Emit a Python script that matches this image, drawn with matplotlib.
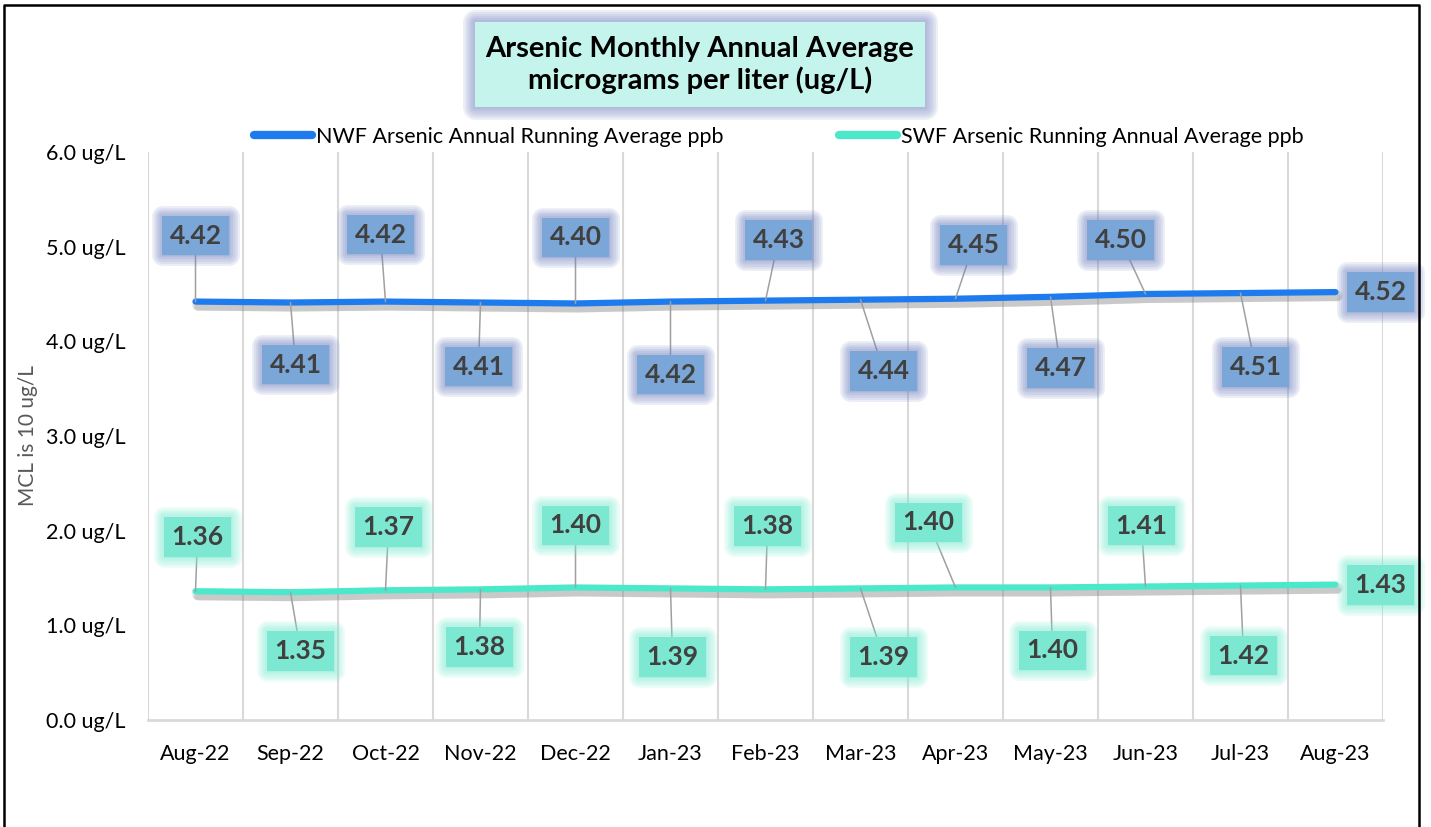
"""
Arsenic running annual average, NWF vs SWF, Aug-22 to Aug-23.
Excel-style line chart with glowing data-label boxes.
"""
import matplotlib
matplotlib.use("Agg")
import matplotlib.pyplot as plt
import matplotlib.patheffects as pe
from matplotlib.lines import Line2D
from matplotlib.patches import Rectangle
import numpy as np

plt.rcParams["font.family"] = ["Lato", "DejaVu Sans"]

months = ["Aug-22", "Sep-22", "Oct-22", "Nov-22", "Dec-22", "Jan-23", "Feb-23",
          "Mar-23", "Apr-23", "May-23", "Jun-23", "Jul-23", "Aug-23"]
nwf = [4.42, 4.41, 4.42, 4.41, 4.40, 4.42, 4.43, 4.44, 4.45, 4.47, 4.50, 4.51, 4.52]
swf = [1.36, 1.35, 1.37, 1.38, 1.40, 1.39, 1.38, 1.39, 1.40, 1.40, 1.41, 1.42, 1.43]
yticks = [0, 1, 2, 3, 4, 5, 6]

nwf_name = "NWF Arsenic Annual Running Average ppb"
swf_name = "SWF Arsenic Running Annual Average ppb"

# label offsets from the point, in pixels (dy == 0 -> no leader line)
nwf_offsets = [(0, 66), (5, -62), (-5, 67), (-2, -64), (0, 66), (0, -73), (13, 61),
               (23, -71), (18, 54), (10, -71), (-25, 54), (15, -74), (45, 0)]
swf_offsets = [(2, 54), (10, -59), (3, 63), (-1, -58), (0, 62), (2, -69), (2, 63),
               (23, -69), (-27, 65), (2, -63), (-4, 61), (3, -70), (45, 0)]

NWF_LINE = "#1E7BEE"
SWF_LINE = "#4CE8CA"
TXT = "#404040"


def glow(color, widths, alpha):
    fx = [pe.Stroke(linewidth=w, foreground=color, alpha=alpha, joinstyle="round")
          for w in widths]
    return fx + [pe.Normal()]


W, H = 1431, 827
fig = plt.figure(figsize=(W / 100, H / 100), dpi=100)
ax = fig.add_axes([148 / W, 1 - 720 / H, (1383 - 148) / W, (720 - 152) / H])

x = np.arange(len(months))

shadow = [pe.SimpleLineShadow(offset=(1.5, -o), shadow_color="#808080", alpha=0.16,
                              linewidth=w)
          for o, w in [(2.5, 8), (3.5, 6), (4.2, 4.5)]] + [pe.Normal()]
ax.plot(x, nwf, color=NWF_LINE, lw=4.5, solid_capstyle="round", path_effects=shadow,
        zorder=3, label=nwf_name)
ax.plot(x, swf, color=SWF_LINE, lw=4.5, solid_capstyle="round", path_effects=shadow,
        zorder=3, label=swf_name)


def add_labels(vals, offsets, fill, glow_color):
    for i, (v, (dx, dy)) in enumerate(zip(vals, offsets)):
        arrow = None
        if dy != 0:
            arrow = dict(arrowstyle="-", color="#a0a0a0", lw=1.1, shrinkA=0, shrinkB=0)
        ann = ax.annotate(f"{v:.2f}", (i, v), xytext=(dx, dy), textcoords="offset pixels",
                          ha="center", va="center", fontsize=19, fontweight="bold",
                          color=TXT, arrowprops=arrow, zorder=5, annotation_clip=False,
                          bbox=dict(boxstyle="square,pad=0.3", fc=fill, ec="none"))
        ann.get_bbox_patch().set_path_effects(glow(glow_color, [15, 12, 9, 6, 3], 0.14))


add_labels(nwf, nwf_offsets, "#7BA7D8", "#7486c0")
add_labels(swf, swf_offsets, "#7DE8D1", "#7EEBD3")

ax.set_xlim(-0.5, len(months) - 0.5)
ax.set_ylim(0, 6)
ax.set_xticks(x)
ax.set_xticklabels(months)
ax.set_xticks(np.arange(-0.5, len(months)), minor=True)
ax.set_yticks(yticks)
ax.set_yticklabels([f"{t:.1f} ug/L" for t in yticks])
ax.tick_params(axis="both", which="both", length=0, labelsize=15.5, colors="black")
ax.tick_params(axis="x", pad=17)
ax.tick_params(axis="y", pad=16)
ax.grid(axis="x", which="minor", color="#d9d9d9", lw=1.5)
for s in ["top", "right", "left"]:
    ax.spines[s].set_visible(False)
ax.spines["bottom"].set_color("#d9d9d9")
ax.spines["bottom"].set_linewidth(2)

# legend, two entries placed apart
h1, h2 = ax.get_lines()
for h, xl in [(h1, 254), (h2, 839)]:
    handle = Line2D([], [], color=h.get_color(), lw=6, solid_capstyle="round")
    leg = fig.legend([handle], [h.get_label()], loc="center left",
                     bbox_to_anchor=(xl / W, 1 - 137 / H), frameon=False, fontsize=15.5,
                     handlelength=2.7, handletextpad=0.2, borderpad=0, borderaxespad=0)

fig.text(28 / W, 1 - 436 / H, "MCL is 10 ug/L", rotation=90, ha="center", va="center",
         fontsize=15, color="#595959")

# title box with glow
tbox = Rectangle((475 / W, 1 - 107 / H), 450 / W, 85 / H, transform=fig.transFigure,
                 fc="#C4F4EC", ec="none", zorder=10)
tbox.set_path_effects(glow("#8593c8", [18, 15, 12, 9, 6, 3], 0.14))
fig.patches.append(tbox)
fig.text(700 / W, 1 - 65 / H, "Arsenic Monthly Annual Average\nmicrograms per liter (ug/L)",
         ha="center", va="center", fontsize=21, fontweight="bold", color="black",
         linespacing=1.2, zorder=11)

# chart border (left, top, right)
bx0, bx1, by = 3.5 / W, 1419 / W, 1 - 4.5 / H
fig.add_artist(Line2D([bx0, bx0, bx1, bx1], [0, by, by, 0], transform=fig.transFigure,
                      color="black", lw=1.8))

fig.savefig("out.png", dpi=100)
